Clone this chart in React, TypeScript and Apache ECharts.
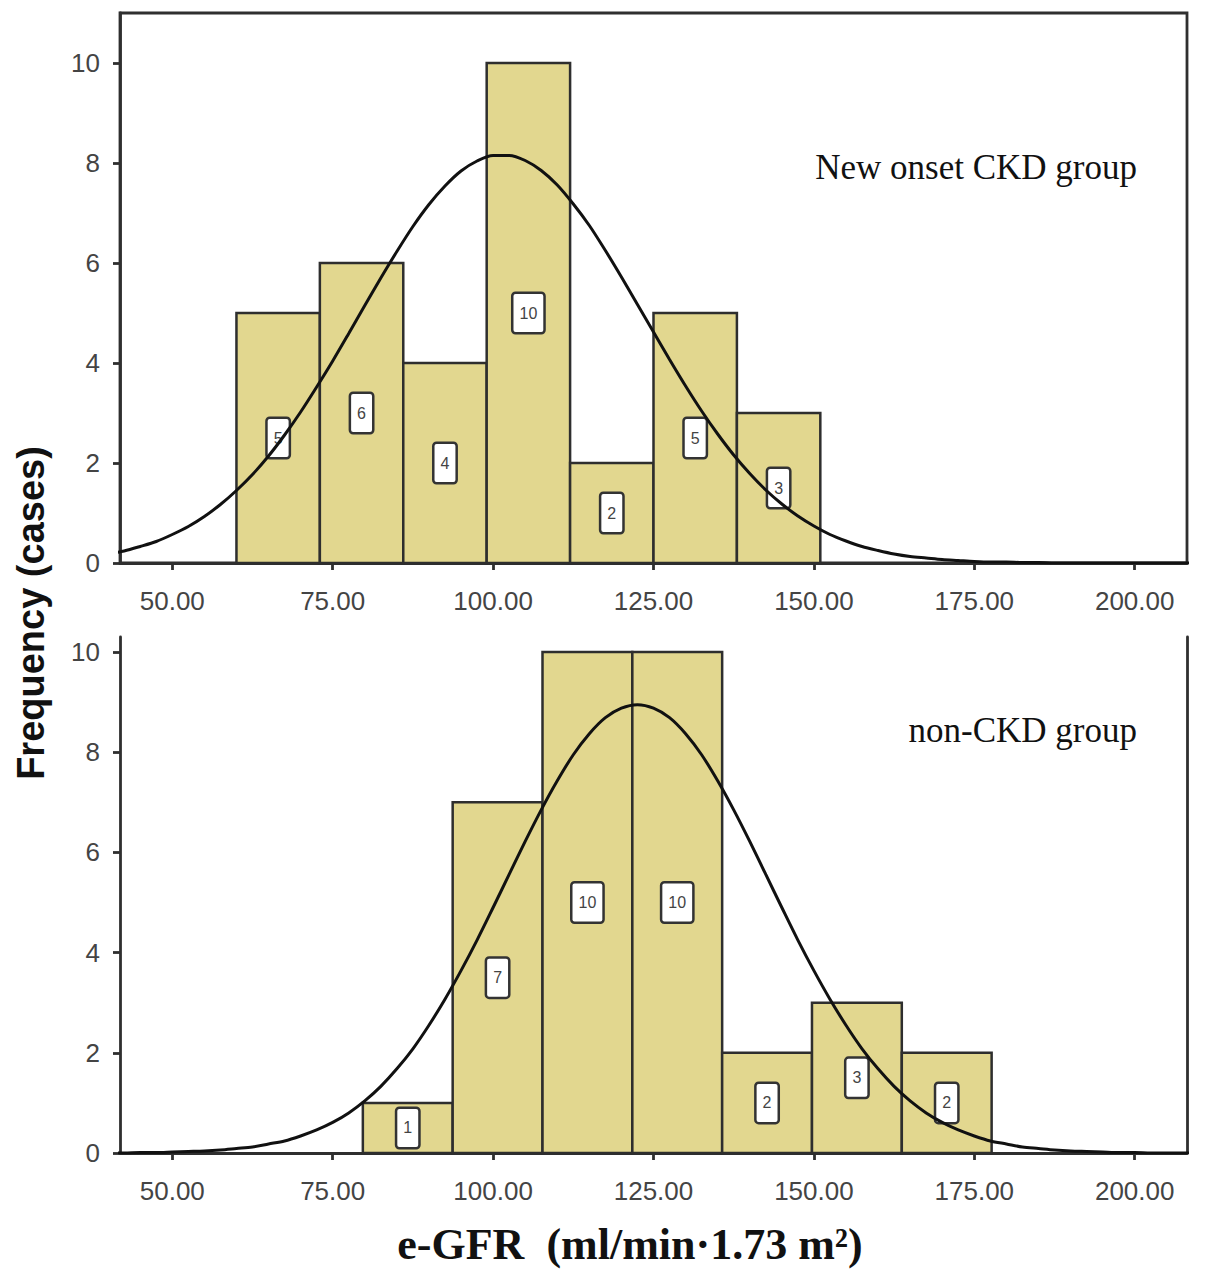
import { useEffect, useRef } from "react";
import * as echarts from "echarts";

// shared x tick values (e-GFR) and y tick values (frequency)
const X_TICKS = [50, 75, 100, 125, 150, 175, 200];
const Y_TICKS = [0, 2, 4, 6, 8, 10];

// New onset CKD group: bin edges, counts per bin
const CKD_EDGES = [60, 73, 86, 99, 112, 125, 138, 151];
const CKD_COUNTS = [5, 6, 4, 10, 2, 5, 3];

// non-CKD group
const NON_EDGES = [79.7, 93.7, 107.7, 121.7, 135.7, 149.7, 163.7, 177.7];
const NON_COUNTS = [1, 7, 10, 10, 2, 3, 2];

// fitted normal curves, every 2.5 units (40 .. 210)
const CURVE_X = [
  40, 42.5, 45, 47.5, 50, 52.5, 55, 57.5, 60, 62.5, 65, 67.5, 70, 72.5, 75, 77.5,
  80, 82.5, 85, 87.5, 90, 92.5, 95, 97.5, 100, 102.5, 105, 107.5, 110, 112.5, 115,
  117.5, 120, 122.5, 125, 127.5, 130, 132.5, 135, 137.5, 140, 142.5, 145, 147.5, 150,
  152.5, 155, 157.5, 160, 162.5, 165, 167.5, 170, 172.5, 175, 177.5, 180, 182.5, 185,
  187.5, 190, 192.5, 195, 197.5, 200, 202.5, 205, 207.5, 210,
];
const CKD_CURVE = [
  0.18, 0.24, 0.33, 0.43, 0.57, 0.73, 0.93, 1.17, 1.45, 1.77, 2.14, 2.56, 3.02, 3.52,
  4.04, 4.59, 5.15, 5.7, 6.23, 6.73, 7.17, 7.54, 7.84, 8.04, 8.15, 8.15, 8.05, 7.85,
  7.56, 7.18, 6.75, 6.25, 5.72, 5.17, 4.62, 4.07, 3.54, 3.04, 2.58, 2.16, 1.79, 1.46,
  1.18, 0.94, 0.74, 0.57, 0.44, 0.33, 0.25, 0.18, 0.13, 0.1, 0.07, 0.05, 0.03, 0.02,
  0.02, 0.01, 0.01, 0, 0, 0, 0, 0, 0, 0, 0, 0, 0,
];
const NON_CURVE = [
  0, 0, 0.01, 0.01, 0.02, 0.03, 0.04, 0.06, 0.09, 0.12, 0.18, 0.24, 0.34, 0.46, 0.61,
  0.8, 1.04, 1.33, 1.68, 2.08, 2.55, 3.07, 3.64, 4.25, 4.9, 5.56, 6.22, 6.85, 7.43,
  7.95, 8.37, 8.69, 8.88, 8.95, 8.88, 8.69, 8.37, 7.95, 7.43, 6.85, 6.22, 5.56, 4.9,
  4.25, 3.64, 3.07, 2.55, 2.08, 1.68, 1.33, 1.04, 0.8, 0.61, 0.46, 0.34, 0.24, 0.18,
  0.12, 0.09, 0.06, 0.04, 0.03, 0.02, 0.01, 0.01, 0, 0, 0, 0,
];

const SANS = "'Liberation Sans', Arial, sans-serif";
const SERIF = "'Liberation Serif', 'Times New Roman', serif";
const AXIS_COLOR = "#2f2f2f";
const BAR_FILL = "#e2d78f";

const bins = (edges: number[], counts: number[]) =>
  counts.map((c, i) => [edges[i], edges[i + 1], c]);

const curve = (ys: number[]) => CURVE_X.map((x, i) => [x, ys[i]]);

const renderBin = (_params: any, api: any) => {
  const start = api.value(0);
  const end = api.value(1);
  const count = api.value(2);
  const topLeft = api.coord([start, count]);
  const bottomRight = api.coord([end, 0]);
  return {
    type: "rect",
    shape: {
      x: topLeft[0],
      y: topLeft[1],
      width: bottomRight[0] - topLeft[0],
      height: bottomRight[1] - topLeft[1],
    },
    style: { fill: BAR_FILL, stroke: "#2e2e2e", lineWidth: 2.5 },
    textContent: {
      style: {
        text: String(count),
        fontSize: 16,
        fontFamily: SANS,
        fill: "#444",
        backgroundColor: "#fff",
        borderColor: "#333",
        borderWidth: 2.5,
        borderRadius: 2,
        padding: [11, 6],
        lineHeight: 16,
      },
    },
    textConfig: { position: "inside" },
  };
};

const xAxis = (gridIndex: number) => ({
  type: "value",
  gridIndex,
  min: 41.85,
  max: 208.15,
  axisLine: { show: true, onZero: false, lineStyle: { color: AXIS_COLOR, width: 2.8 } },
  axisTick: {
    show: true,
    length: 7,
    customValues: X_TICKS,
    lineStyle: { color: AXIS_COLOR, width: 2.8 },
  },
  axisLabel: {
    customValues: X_TICKS,
    formatter: (v: number) => v.toFixed(2),
    margin: 25,
    fontSize: 26,
    fontFamily: SANS,
    color: "#444",
  },
  splitLine: { show: false },
});

const yAxis = (gridIndex: number, max: number) => ({
  type: "value",
  gridIndex,
  min: 0,
  max,
  axisLine: { show: true, lineStyle: { color: AXIS_COLOR, width: 2.8 } },
  axisTick: {
    show: true,
    length: 7,
    customValues: Y_TICKS,
    lineStyle: { color: AXIS_COLOR, width: 2.8 },
  },
  axisLabel: {
    customValues: Y_TICKS,
    margin: 20,
    fontSize: 26,
    fontFamily: SANS,
    color: "#444",
  },
  splitLine: { show: false },
});

export default function App() {
  const ref = useRef<HTMLDivElement>(null);

  useEffect(() => {
    if (!ref.current) return;
    const chart = echarts.init(ref.current, undefined, { renderer: "svg" });
    const option: any = {
      animation: false,
      backgroundColor: "#fff",
      grid: [
        {
          left: 120,
          top: 13,
          width: 1067,
          height: 550,
          show: true,
          borderColor: AXIS_COLOR,
          borderWidth: 2.8,
        },
        { left: 120, top: 637, width: 1067, height: 516 },
      ],
      xAxis: [xAxis(0), xAxis(1)],
      yAxis: [
        yAxis(0, 11),
        yAxis(1, 10.3),
        {
          type: "value",
          gridIndex: 1,
          position: "right",
          min: 0,
          max: 10.3,
          axisLine: { show: true, lineStyle: { color: AXIS_COLOR, width: 2.8 } },
          axisTick: { show: false },
          axisLabel: { show: false },
          splitLine: { show: false },
        },
      ],
      series: [
        {
          type: "custom",
          xAxisIndex: 0,
          yAxisIndex: 0,
          renderItem: renderBin,
          encode: { x: [0, 1], y: 2 },
          data: bins(CKD_EDGES, CKD_COUNTS),
          z: 2,
        },
        {
          type: "line",
          xAxisIndex: 0,
          yAxisIndex: 0,
          data: curve(CKD_CURVE),
          smooth: 0.3,
          symbol: "none",
          lineStyle: { color: "#111", width: 3 },
          z: 10,
        },
        {
          type: "custom",
          xAxisIndex: 1,
          yAxisIndex: 1,
          renderItem: renderBin,
          encode: { x: [0, 1], y: 2 },
          data: bins(NON_EDGES, NON_COUNTS),
          z: 2,
        },
        {
          type: "line",
          xAxisIndex: 1,
          yAxisIndex: 1,
          data: curve(NON_CURVE),
          smooth: 0.3,
          symbol: "none",
          lineStyle: { color: "#111", width: 3 },
          z: 10,
        },
      ],
      graphic: [
        {
          type: "text",
          x: 1137,
          y: 167,
          style: {
            text: "New onset CKD group",
            font: `35px ${SERIF}`,
            fill: "#111",
            textAlign: "right",
            textVerticalAlign: "middle",
          },
        },
        {
          type: "text",
          x: 1137,
          y: 730,
          style: {
            text: "non-CKD group",
            font: `35px ${SERIF}`,
            fill: "#111",
            textAlign: "right",
            textVerticalAlign: "middle",
          },
        },
        {
          type: "text",
          x: 31,
          y: 613,
          rotation: Math.PI / 2,
          style: {
            text: "Frequency (cases)",
            font: `bold 38px ${SANS}`,
            fill: "#111",
            textAlign: "center",
            textVerticalAlign: "middle",
          },
        },
        {
          type: "text",
          x: 630,
          y: 1244,
          style: {
            text: "e-GFR\u00a0 (ml/min\u00b71.73 m\u00b2)",
            font: `bold 44px ${SERIF}`,
            fill: "#111",
            textAlign: "center",
            textVerticalAlign: "middle",
          },
        },
      ],
    };
    chart.setOption(option);
    return () => chart.dispose();
  }, []);

  return (
    <div
      ref={ref}
      style={{ position: "absolute", left: 0, top: 0, width: 1205, height: 1281 }}
    />
  );
}
